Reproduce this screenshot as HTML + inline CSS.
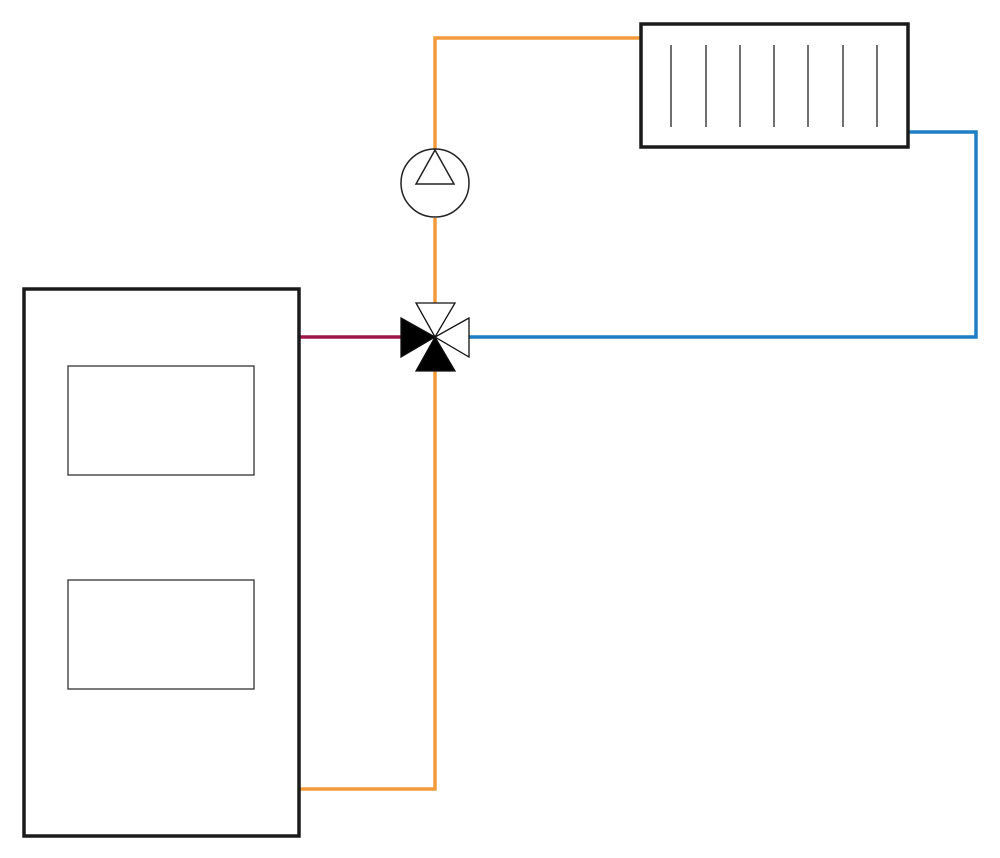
<!DOCTYPE html>
<html><head><style>body{margin:0;background:#fff}svg{display:block}</style></head><body>
<svg width="1000" height="858" viewBox="0 0 1000 858" xmlns="http://www.w3.org/2000/svg">
<g fill="none" stroke-width="3.5">
<polyline points="299,789 435,789 435,371" stroke="#f39a3c"/>
<line x1="435" y1="303" x2="435" y2="218" stroke="#f39a3c"/>
<polyline points="435,150 435,38 641,38" stroke="#f39a3c"/>
<line x1="299" y1="337" x2="401" y2="337" stroke="#a0174a"/>
<polyline points="469,337 976,337 976,132 908,132" stroke="#1f7fc4"/>
</g>
<rect x="24" y="289" width="275" height="547" fill="none" stroke="#1a1a1a" stroke-width="3.5"/>
<rect x="68" y="366" width="186" height="109" fill="none" stroke="#333" stroke-width="1.3"/>
<rect x="68" y="580" width="186" height="109" fill="none" stroke="#333" stroke-width="1.3"/>
<rect x="641" y="24" width="267" height="123" fill="#fff" stroke="#1a1a1a" stroke-width="3.5"/>
<g stroke="#222" stroke-width="1.3">
<line x1="671" y1="45" x2="671" y2="127"/><line x1="706" y1="45" x2="706" y2="127"/>
<line x1="740" y1="45" x2="740" y2="127"/><line x1="774" y1="45" x2="774" y2="127"/>
<line x1="808" y1="45" x2="808" y2="127"/><line x1="843" y1="45" x2="843" y2="127"/>
<line x1="877" y1="45" x2="877" y2="127"/>
</g>
<circle cx="435" cy="183" r="34" fill="#fff" stroke="#222" stroke-width="1.5"/>
<polygon points="435,150 416,184 454,184" fill="#fff" stroke="#222" stroke-width="1.5"/>
<g stroke="#111" stroke-width="1.3" stroke-linejoin="miter">
<polygon points="416,303 455,303 435,337" fill="#fff"/>
<polygon points="469,318 469,357 435,337" fill="#fff"/>
<polygon points="401,318 401,357 435,337" fill="#000"/>
<polygon points="416,371 455,371 435,337" fill="#000"/>
</g>
</svg>
</body></html>
